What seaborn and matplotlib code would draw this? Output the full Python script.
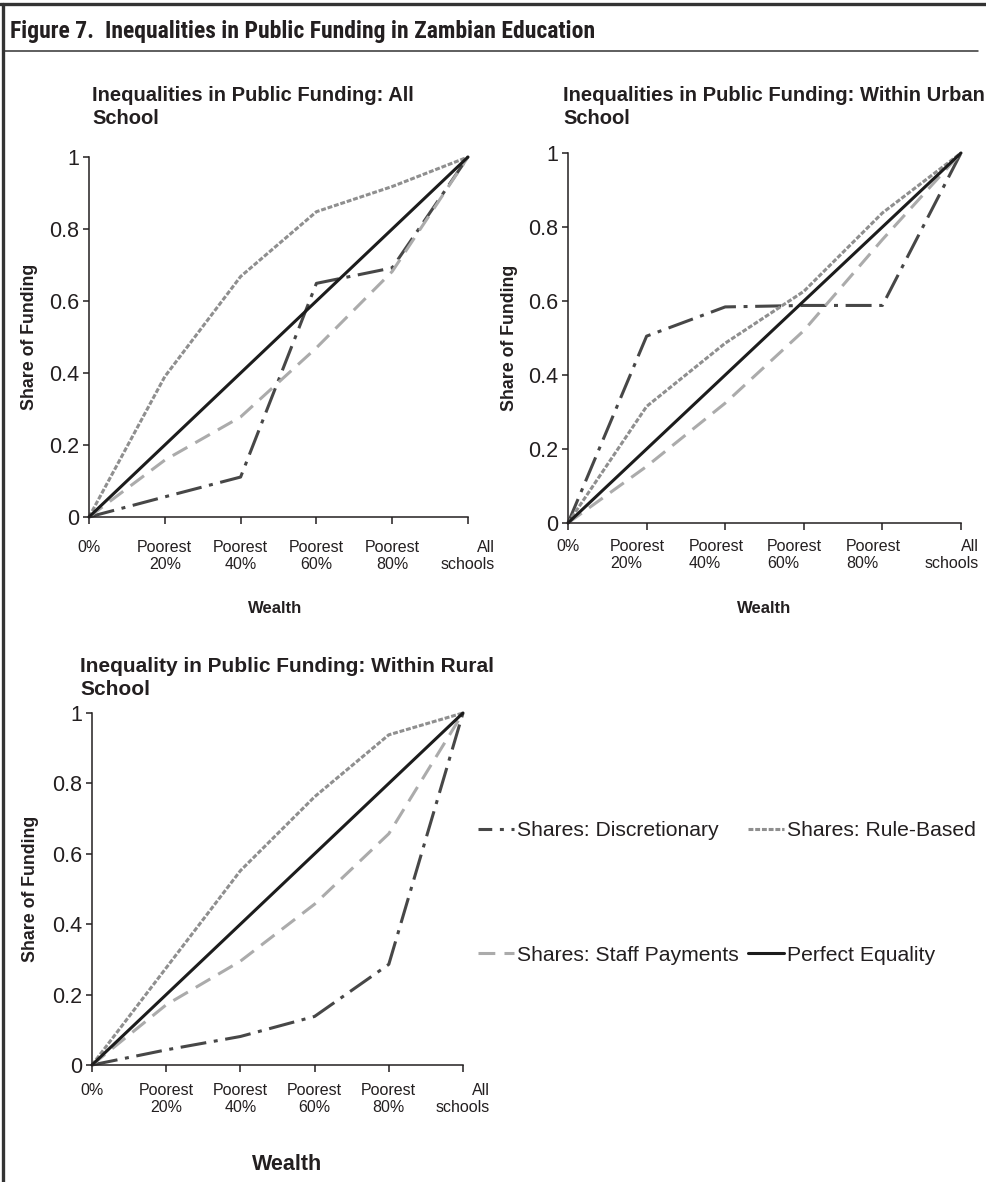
import numpy as np
import pandas as pd
import matplotlib
matplotlib.use("Agg")
import matplotlib.pyplot as plt
import seaborn as sns
from matplotlib.lines import Line2D
from matplotlib.transforms import ScaledTranslation

# ---------------- data ----------------
categories = ["0%", "Poorest\n20%", "Poorest\n40%", "Poorest\n60%", "Poorest\n80%", "All\nschools"]
series_names = ["Shares: Discretionary", "Shares: Rule-Based",
                "Shares: Staff Payments", "Perfect Equality"]

all_discretionary = [0, 0.056, 0.111, 0.649, 0.692, 1.0]
all_rule_based = [0, 0.39, 0.668, 0.848, 0.918, 1.0]
all_staff = [0, 0.158, 0.278, 0.47, 0.682, 1.0]

urban_discretionary = [0, 0.505, 0.584, 0.588, 0.588, 1.0]
urban_rule_based = [0, 0.315, 0.486, 0.626, 0.838, 1.0]
urban_staff = [0, 0.153, 0.324, 0.52, 0.766, 1.0]

rural_discretionary = [0, 0.043, 0.081, 0.138, 0.286, 1.0]
rural_rule_based = [0, 0.276, 0.552, 0.762, 0.938, 1.0]
rural_staff = [0, 0.171, 0.295, 0.457, 0.657, 1.0]

perfect_equality = [0, 0.2, 0.4, 0.6, 0.8, 1.0]

y_ticks = [0, 0.2, 0.4, 0.6, 0.8, 1.0]
y_ticklabels = ["0", "0.2", "0.4", "0.6", "0.8", "1"]

panel_titles = ["Inequalities in Public Funding: All\nSchool",
                "Inequalities in Public Funding: Within Urban\nSchool",
                "Inequality in Public Funding: Within Rural\nSchool"]
fig_title = "Figure 7.  Inequalities in Public Funding in Zambian Education"

# ---------------- style ----------------
sns.set_theme(style="ticks")
plt.rcParams["font.family"] = ["Liberation Sans", "DejaVu Sans"]
TXT = "#231f20"
plt.rcParams["text.color"] = TXT
plt.rcParams["axes.edgecolor"] = TXT
plt.rcParams["xtick.color"] = TXT
plt.rcParams["ytick.color"] = TXT
plt.rcParams["axes.labelcolor"] = TXT

palette = {"Shares: Discretionary": "#474747", "Shares: Rule-Based": "#8f8f8f",
           "Shares: Staff Payments": "#ababab", "Perfect Equality": "#1c1c1c"}
dash_map = {"Shares: Discretionary": (8.5, 2.5, 1.3, 2.5),
            "Shares: Rule-Based": (1.6, 0.6),
            "Shares: Staff Payments": (5.5, 3.0),
            "Perfect Equality": ""}
LW = 2.2

W, H = 987, 1182
fig = plt.figure(figsize=(W / 100, H / 100), dpi=100)


def ax_rect(x0, x1, y_top, y_bot):
    return [x0 / W, 1 - y_bot / H, (x1 - x0) / W, (y_bot - y_top) / H]


def px(x, y):
    return x / W, 1 - y / H


panels = [
    dict(rect=ax_rect(89, 468, 157, 517), data=[all_discretionary, all_rule_based, all_staff],
         title_xy=(92, 86), tsize=14.5, xlab=(0.49, -0.233), ylab=(-0.156, 0.5), xlab_size=12,
         xpad=11.5, malign="center", shift=0),
    dict(rect=ax_rect(568, 961, 153, 523), data=[urban_discretionary, urban_rule_based, urban_staff],
         title_xy=(563, 86), tsize=14.5, xlab=(0.50, -0.211), ylab=(-0.150, 0.5), xlab_size=12,
         xpad=6.5, malign="left", shift=-9),
    dict(rect=ax_rect(92, 463, 713, 1065), data=[rural_discretionary, rural_rule_based, rural_staff],
         title_xy=(80, 657), tsize=15, xlab=(0.526, -0.253), ylab=(-0.167, 0.5), xlab_size=15.5,
         xpad=8, malign="center", shift=0),
]

for i, p in enumerate(panels):
    ax = fig.add_axes(p["rect"])
    disc, rule, staff = p["data"]
    df = pd.DataFrame({
        "pos": list(range(6)) * 4,
        "share": disc + rule + staff + perfect_equality,
        "series": np.repeat(series_names, 6),
    })
    sns.lineplot(data=df, x="pos", y="share", hue="series", style="series",
                 hue_order=series_names, style_order=series_names,
                 palette=palette, dashes=dash_map, linewidth=LW,
                 sort=False, estimator=None, legend=False, ax=ax, clip_on=False)
    ax.set_xlim(0, 5)
    ax.set_ylim(0, 1)
    ax.set_xticks(range(6))
    ax.set_xticklabels(categories)
    ax.set_yticks(y_ticks)
    ax.set_yticklabels(y_ticklabels)
    sns.despine(ax=ax)
    for s in ("left", "bottom"):
        ax.spines[s].set_linewidth(1.1)
    ax.tick_params(axis="x", direction="out", length=5, width=1.1, pad=p["xpad"], labelsize=11.5)
    ax.tick_params(axis="y", direction="out", length=4, width=1.1, pad=3, labelsize=15.5)
    off = ScaledTranslation(p["shift"] / 100, 0, fig.dpi_scale_trans)
    for k, lab in enumerate(ax.get_xticklabels()):
        if k == 5:
            lab.set_multialignment("right")
        else:
            lab.set_multialignment(p["malign"])
        if k > 0 and p["shift"]:
            lab.set_transform(lab.get_transform() + off)
    ax.set_xlabel("Wealth", fontsize=p["xlab_size"], fontweight="bold")
    ax.xaxis.set_label_coords(*p["xlab"])
    ax.set_ylabel("Share of Funding", fontsize=12.8, fontweight="bold", va="center")
    ax.yaxis.set_label_coords(*p["ylab"])
    fig.text(*px(*p["title_xy"]), panel_titles[i], fontsize=p["tsize"], fontweight="bold",
             ha="left", va="top", linespacing=1.25)

# legend
handles = []
for name in series_names:
    d = dash_map[name]
    if d == "":
        h = Line2D([], [], color=palette[name], lw=LW, linestyle="-")
    elif name == "Shares: Discretionary":
        h = Line2D([], [], color=palette[name], lw=LW, linestyle=(4.0, d))
    else:
        h = Line2D([], [], color=palette[name], lw=LW, dashes=d)
    handles.append(h)
order = [0, 2, 1, 3]
fig.legend([handles[k] for k in order], [series_names[k] for k in order],
           ncol=2, loc="upper left", bbox_to_anchor=px(478, 821), frameon=False,
           fontsize=15.2, handlelength=1.7, handletextpad=0.15, columnspacing=0.45,
           labelspacing=5.0, borderpad=0, borderaxespad=0)

# figure frame and heading
fig.add_artist(Line2D([0, 1], [1 - 4 / H] * 2, transform=fig.transFigure, color="#333333", lw=2.4))
fig.add_artist(Line2D([3 / W] * 2, [0, 1 - 4 / H], transform=fig.transFigure, color="#333333", lw=2.4))
fig.add_artist(Line2D([5 / W, 978 / W], [1 - 51 / H] * 2, transform=fig.transFigure, color="#333333", lw=1.1))
fig.text(*px(10, 38), fig_title, fontsize=17, fontweight="bold", ha="left", va="baseline",
         family=["Roboto Condensed", "Liberation Sans Narrow", "DejaVu Sans"],
         fontstretch="condensed")

fig.savefig("out.png", dpi=100)
